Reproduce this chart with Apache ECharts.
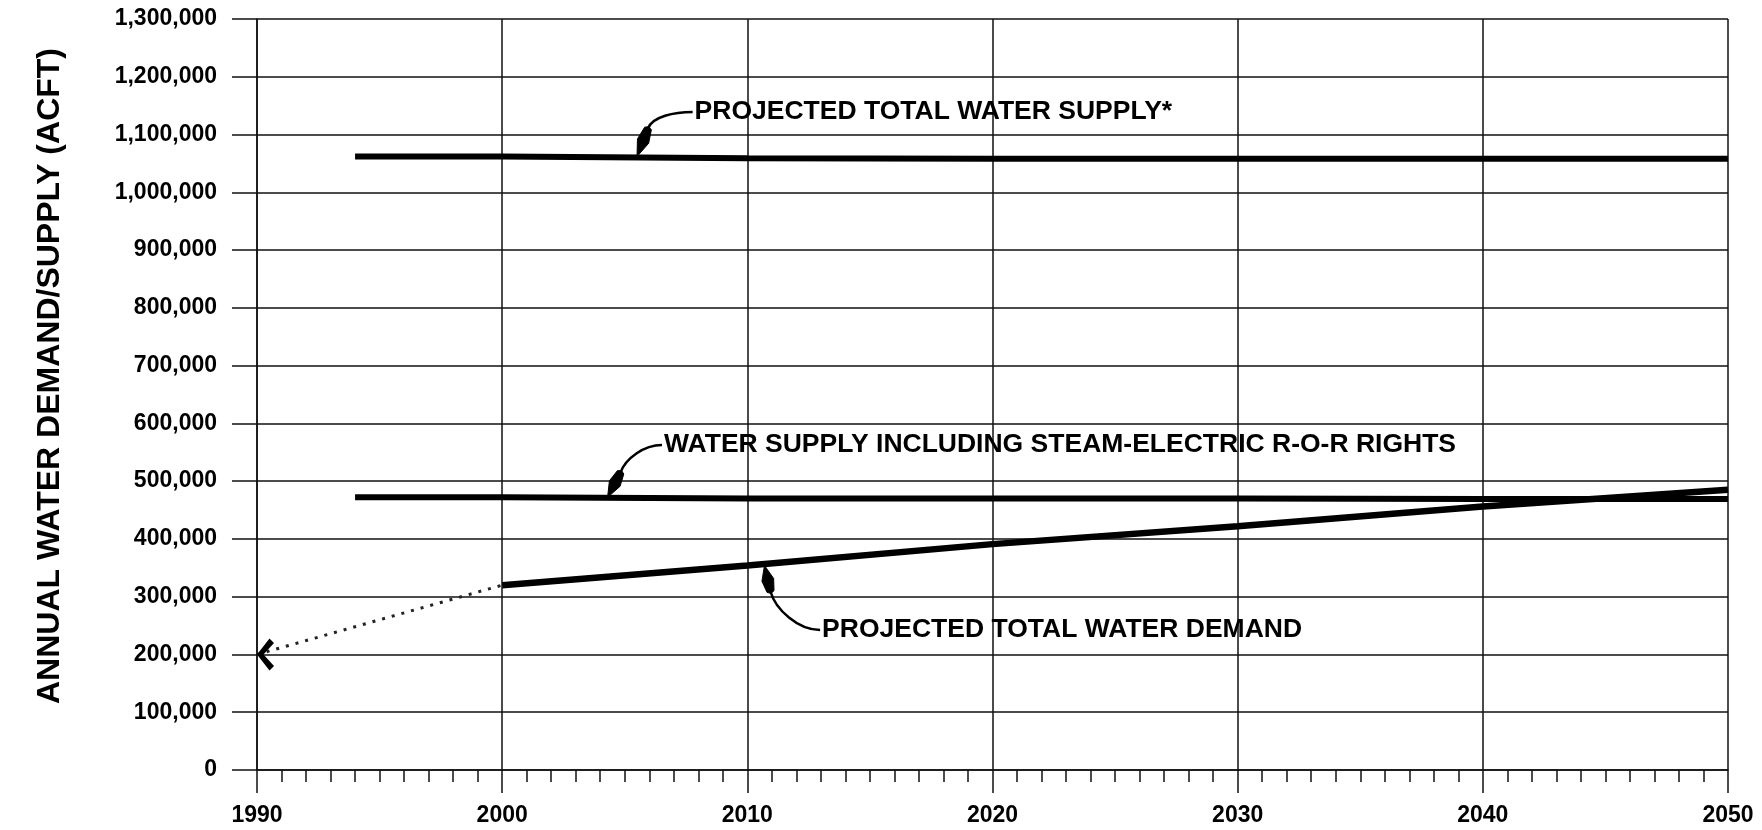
<!DOCTYPE html>
<html>
<head>
<meta charset="utf-8">
<title>Annual Water Demand / Supply</title>
<script src="https://cdn.jsdelivr.net/npm/echarts@6/dist/echarts.min.js"></script>
<style>
  html, body { margin: 0; padding: 0; background: #fff; }
  #chart { width: 1762px; height: 830px; }
</style>
</head>
<body>
<div id="chart"></div>
<script>
// Supply projections (acre-feet per year)
const supplyYears = [1994, 2000, 2010, 2020, 2030, 2040, 2050];
const totalSupply = [1062000, 1062000, 1059000, 1058000, 1058000, 1058000, 1058000];
const rorSupply   = [472000, 472000, 470000, 470000, 470000, 469000, 469000];

// Demand: historical trend and projection
const historyYears  = [1990, 2000];
const historyDemand = [200000, 320000];
const demandYears   = [2000, 2010, 2020, 2030, 2040, 2050];
const demand        = [320000, 354000, 391000, 422000, 456000, 485000];

// Axis settings
const yearMin = 1990, yearMax = 2050, yearStep = 10;
const acftMin = 0, acftMax = 1300000, acftStep = 100000;

// Callout texts with their anchor points (text start, arrow tip) in data units
const notes = [
  { text: 'PROJECTED TOTAL WATER SUPPLY*', at: [2007.85, 1139000], tip: [2005.5, 1062000],
    head: [11, -28], c1: [4, -12], c2: [-18, 0] },
  { text: 'WATER SUPPLY INCLUDING STEAM-ELECTRIC R-O-R RIGHTS', at: [2006.6, 562600], tip: [2004.3, 472000],
    head: [13, -25], c1: [5, -14], c2: [-18, 0] },
  { text: 'PROJECTED TOTAL WATER DEMAND', at: [2013.05, 242300], tip: [2010.7, 354000],
    head: [6, 26], c1: [5, 18], c2: [-22, 0] }
];

const FONT = '"Liberation Sans", Arial, Helvetica, sans-serif';
const zip = (xs, ys) => xs.map((x, i) => [x, ys[i]]);

const chart = echarts.init(document.getElementById('chart'), null, { renderer: 'canvas' });

// Bold open chevron marking the start of the historical trend
const chevron = 'path://M17,4.5 L6.5,16 L17,27.5 L12.5,32 L0,16 L12.5,0 Z';

const option = {
  animation: false,
  backgroundColor: '#fff',
  grid: { left: 257, right: 34, top: 19, bottom: 60, containLabel: false },
  xAxis: {
    type: 'value',
    min: yearMin, max: yearMax, interval: yearStep,
    axisLine: { show: true, onZero: false, lineStyle: { color: '#111', width: 1.5 } },
    axisTick: { show: true, length: 23, lineStyle: { color: '#111', width: 1.5 } },
    minorTick: { show: true, splitNumber: 10, length: 12, lineStyle: { color: '#111', width: 1.5 } },
    splitLine: { show: true, lineStyle: { color: '#111', width: 1.5 } },
    axisLabel: {
      margin: 34, color: '#000', fontFamily: FONT, fontWeight: 'bold', fontSize: 23,
      formatter: v => String(v)
    }
  },
  yAxis: {
    type: 'value',
    min: acftMin, max: acftMax, interval: acftStep,
    axisLine: { show: true, onZero: false, lineStyle: { color: '#111', width: 1.5 } },
    axisTick: { show: true, length: 25, lineStyle: { color: '#111', width: 1.5 } },
    splitLine: { show: true, lineStyle: { color: '#111', width: 1.5 } },
    axisLabel: {
      margin: 40, color: '#000', fontFamily: FONT, fontWeight: 'bold', fontSize: 23,
      formatter: v => v.toLocaleString('en-US')
    }
  },
  series: [
    {
      name: 'Projected total water supply',
      type: 'line', data: zip(supplyYears, totalSupply),
      symbol: 'none', lineStyle: { color: '#000', width: 6 }
    },
    {
      name: 'Water supply including steam-electric R-O-R rights',
      type: 'line', data: zip(supplyYears, rorSupply),
      symbol: 'none', lineStyle: { color: '#000', width: 6 }
    },
    {
      name: 'Projected total water demand',
      type: 'line', data: zip(demandYears, demand),
      symbol: 'none', lineStyle: { color: '#000', width: 6.5 }
    },
    {
      name: 'Historical demand trend',
      type: 'line', clip: false,
      data: zip(historyYears, historyDemand).map((p, i) => i === 0
        ? { value: p, symbol: chevron, symbolSize: [17, 32], symbolOffset: [8.5, 0],
            itemStyle: { color: '#000' } }
        : { value: p, symbol: 'none' }),
      showSymbol: true,
      lineStyle: { color: '#222', width: 3, type: [3, 7] }
    }
  ]
};

chart.setOption(option);

// Callouts: curved leader with a teardrop arrowhead pointing at the line
function arrowHead(t, b, w) {
  const dx = b[0] - t[0], dy = b[1] - t[1];
  const L = Math.hypot(dx, dy);
  const ux = dx / L, uy = dy / L, nx = -uy, ny = ux;
  const m = [t[0] + ux * L * 0.55, t[1] + uy * L * 0.55];
  return [
    t,
    [m[0] + nx * w / 2, m[1] + ny * w / 2],
    [b[0] + nx * w * 0.3, b[1] + ny * w * 0.3],
    [b[0] + ux * 2, b[1] + uy * 2],
    [b[0] - nx * w * 0.3, b[1] - ny * w * 0.3],
    [m[0] - nx * w / 2, m[1] - ny * w / 2]
  ];
}

const graphics = [];
notes.forEach(n => {
  const tip = chart.convertToPixel({ gridIndex: 0 }, n.tip);
  const at = chart.convertToPixel({ gridIndex: 0 }, n.at);
  const base = [tip[0] + n.head[0], tip[1] + n.head[1]];
  const end = [at[0] - 2, at[1]];
  graphics.push({
    type: 'bezierCurve', silent: true, z: 100,
    shape: {
      x1: base[0], y1: base[1],
      cpx1: base[0] + n.c1[0], cpy1: base[1] + n.c1[1],
      cpx2: end[0] + n.c2[0], cpy2: end[1] + n.c2[1],
      x2: end[0], y2: end[1]
    },
    style: { stroke: '#000', lineWidth: 2.5, fill: null }
  });
  graphics.push({
    type: 'polygon', silent: true, z: 100,
    shape: { points: arrowHead(tip, base, 12) },
    style: { fill: '#000', stroke: '#000', lineWidth: 1 }
  });
  graphics.push({
    type: 'text', silent: true, z: 100,
    x: at[0], y: at[1],
    style: {
      text: n.text, fill: '#000', font: 'bold 26.5px ' + FONT,
      textAlign: 'left', textVerticalAlign: 'middle'
    }
  });
});

// Rotated axis title
graphics.push({
  type: 'text', silent: true, z: 100,
  x: 50, y: 376, rotation: Math.PI / 2,
  style: {
    text: 'ANNUAL WATER DEMAND/SUPPLY (ACFT)', fill: '#000', font: 'bold 32px ' + FONT,
    textAlign: 'center', textVerticalAlign: 'middle'
  }
});

chart.setOption({ graphic: graphics });
</script>
</body>
</html>
